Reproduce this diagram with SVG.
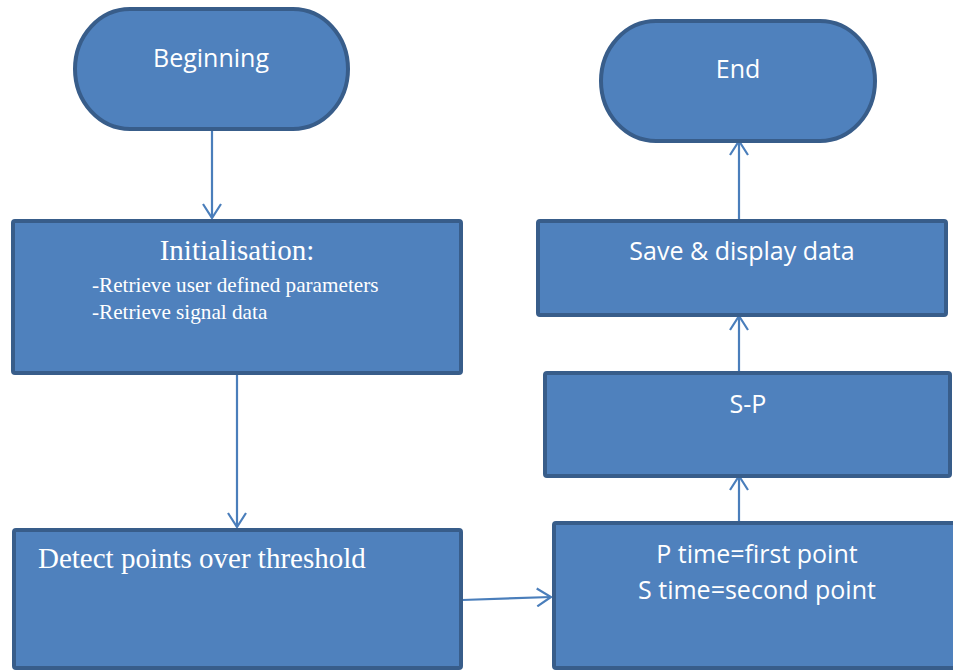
<svg xmlns="http://www.w3.org/2000/svg" width="953" height="670" viewBox="0 0 953 670">
  <style>
    .shape { fill: #4f81bd; stroke: #385d8a; stroke-width: 4; }
    .link { fill: none; stroke: #4a7ebb; stroke-width: 2.2; }
    .sans { font-family: "Open Sans", Lato, sans-serif; fill: #ffffff; font-size: 25px; }
    .serif { font-family: "Liberation Serif", "Times New Roman", serif; fill: #ffffff; }
  </style>
  <defs>
    <marker id="arrow" viewBox="0 0 20 20" refX="18" refY="10" markerWidth="20" markerHeight="20" markerUnits="userSpaceOnUse" orient="auto">
      <path d="M4 1 L18 10 L4 19" fill="none" stroke="#4a7ebb" stroke-width="2.2"/>
    </marker>
  </defs>
  <rect width="953" height="670" fill="#ffffff"/>

  <!-- connectors -->
  <g id="connectors">
    <line class="link" x1="212" y1="130" x2="212" y2="218" marker-end="url(#arrow)"/>
    <line class="link" x1="237" y1="374" x2="237" y2="527" marker-end="url(#arrow)"/>
    <line class="link" x1="462" y1="600" x2="551" y2="597" marker-end="url(#arrow)"/>
    <line class="link" x1="739" y1="522" x2="739" y2="476" marker-end="url(#arrow)"/>
    <line class="link" x1="739" y1="372" x2="739" y2="316" marker-end="url(#arrow)"/>
    <line class="link" x1="739" y1="219" x2="739" y2="141" marker-end="url(#arrow)"/>
  </g>

  <!-- start terminal -->
  <g id="beginning">
    <rect class="shape" x="75" y="9" width="273" height="120" rx="55" ry="60"/>
    <text class="sans" x="211" y="67" text-anchor="middle">Beginning</text>
  </g>

  <!-- initialisation step -->
  <g id="initialisation">
    <rect class="shape" x="13" y="221" width="448" height="152" rx="2"/>
    <text class="serif" x="237" y="260" text-anchor="middle" font-size="29">Initialisation:</text>
    <text class="serif" x="92" y="292" font-size="21.2">-Retrieve user defined parameters</text>
    <text class="serif" x="92" y="319" font-size="21.2">-Retrieve signal data</text>
  </g>

  <!-- threshold detection -->
  <g id="detect">
    <rect class="shape" x="14" y="530" width="447" height="138" rx="2"/>
    <text class="serif" x="38" y="568" font-size="29">Detect points over threshold</text>
  </g>

  <!-- arrival times -->
  <g id="times">
    <rect class="shape" x="554" y="523" width="410" height="145" rx="2"/>
    <text class="sans" x="757" y="563" text-anchor="middle">P time=first point</text>
    <text class="sans" x="757" y="599" text-anchor="middle">S time=second point</text>
  </g>

  <!-- difference -->
  <g id="s-p">
    <rect class="shape" x="545" y="373" width="405" height="103" rx="2"/>
    <text class="sans" x="748" y="413" text-anchor="middle">S-P</text>
  </g>

  <!-- output -->
  <g id="save">
    <rect class="shape" x="538" y="221" width="408" height="94" rx="2"/>
    <text class="sans" x="742" y="260" text-anchor="middle">Save &amp; display data</text>
  </g>

  <!-- end terminal -->
  <g id="end">
    <rect class="shape" x="601" y="21" width="274" height="120" rx="55" ry="60"/>
    <text class="sans" x="738" y="78" text-anchor="middle">End</text>
  </g>
</svg>
